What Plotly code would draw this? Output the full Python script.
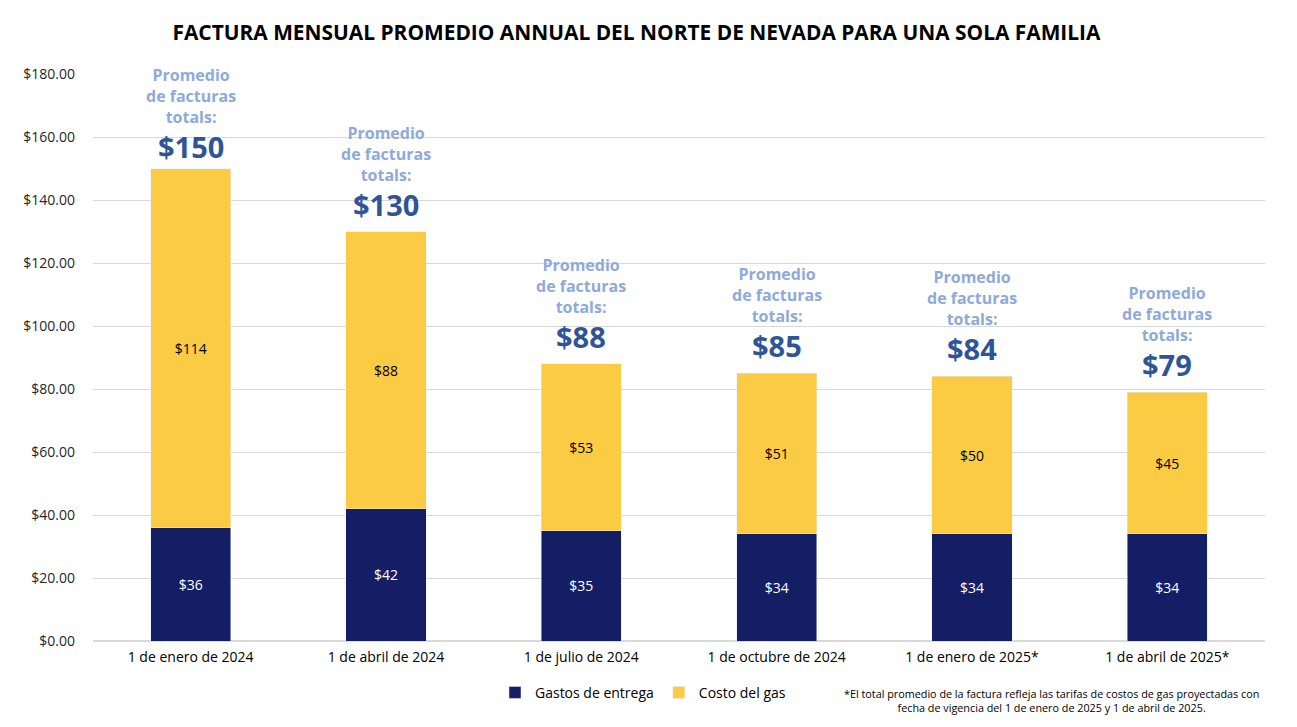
import plotly.graph_objects as go

categories = ["1 de enero de 2024", "1 de abril de 2024", "1 de julio de 2024",
              "1 de octubre de 2024", "1 de enero de 2025*", "1 de abril de 2025*"]
delivery = [36, 42, 35, 34, 34, 34]
gas_cost = [114, 88, 53, 51, 50, 45]
y_ticks = [0, 20, 40, 60, 80, 100, 120, 140, 160, 180]

FONT = "Open Sans, sans-serif"
NAVY = "#141E64"
YELLOW = "#FBCB43"

totals = [d + g for d, g in zip(delivery, gas_cost)]

fig = go.Figure()
fig.add_trace(go.Bar(
    x=categories, y=delivery, name="Gastos de entrega",
    marker=dict(color=NAVY), width=0.41,
    text=[f"${v}" for v in delivery], textposition="inside",
    insidetextanchor="middle", textangle=0,
    textfont=dict(color="white", size=14, family=FONT),
))
fig.add_trace(go.Bar(
    x=categories, y=gas_cost, name="Costo del gas",
    marker=dict(color=YELLOW), width=0.41,
    text=[f"${v}" for v in gas_cost], textposition="inside",
    insidetextanchor="middle", textangle=0,
    textfont=dict(color="black", size=14, family=FONT),
))

for i, (c, t) in enumerate(zip(categories, totals)):
    shift = 1 if i == 0 else 6
    fig.add_annotation(x=c, y=t, text=f"<b>${t}</b>", showarrow=False,
                       yanchor="bottom", yshift=shift,
                       font=dict(size=29, color="#2F5597", family=FONT))
    fig.add_annotation(x=c, y=t, text="<b>Promedio<br>de facturas<br>totals:</b>",
                       showarrow=False, yanchor="bottom", yshift=shift + 38,
                       font=dict(size=16, color="#8EA9DB", family=FONT))

fig.add_annotation(xref="paper", yref="paper", x=0.8176, xanchor="center",
                   y=-0.075, yanchor="top",
                   text="*El total promedio de la factura refleja las tarifas de costos de gas proyectadas con<br>fecha de vigencia del 1 de enero de 2025 y 1 de abril de 2025.",
                   showarrow=False, align="center",
                   font=dict(size=10.8, color="black", family=FONT))

fig.update_layout(
    barmode="stack",
    width=1297, height=727,
    margin=dict(l=93, r=32, t=74, b=86, autoexpand=False),
    paper_bgcolor="white", plot_bgcolor="white",
    title=dict(text="<b>FACTURA MENSUAL PROMEDIO ANNUAL DEL NORTE DE NEVADA PARA UNA SOLA FAMILIA</b>",
               x=0.4907, xanchor="center", y=0.955, yanchor="middle",
               font=dict(size=20.9, color="black", family=FONT)),
    legend=dict(orientation="h", x=0.343, xanchor="left", yref="container",
                y=0.047, yanchor="middle",
                font=dict(size=14, color="black", family=FONT), traceorder="normal"),
    showlegend=True,
)
fig.update_yaxes(range=[0, 180], tickvals=y_ticks,
                 ticktext=[f"${v:.2f}" for v in y_ticks],
                 showgrid=True, gridcolor="#D9D9D9", zeroline=True, zerolinecolor="#D9D9D9",
                 tickfont=dict(size=14, color="#262626", family=FONT), ticks="",
                 ticklabelstandoff=17, automargin=False)
fig.update_xaxes(tickfont=dict(size=14, color="black", family=FONT), showline=False,
                 automargin=False, ticklabelstandoff=6)

fig.write_html("out.html", config={"displayModeBar": False},
               post_script="document.body.style.margin='0';document.body.style.overflow='hidden';")
